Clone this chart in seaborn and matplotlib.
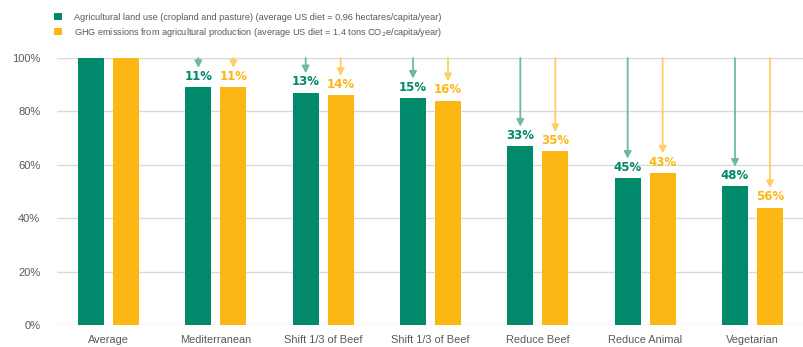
import matplotlib
matplotlib.use("Agg")
import matplotlib.pyplot as plt
import seaborn as sns
import pandas as pd

# ---- data ----
diet_labels = ["Average", "Mediterranean", "Shift 1/3 of Beef", "Shift 1/3 of Beef",
               "Reduce Beef", "Reduce Animal", "Vegetarian"]
land_reduction = [0, 11, 13, 15, 33, 45, 48]   # % reduction vs average diet
ghg_reduction = [0, 11, 14, 16, 35, 43, 56]
series_names = [
    "Agricultural land use (cropland and pasture) (average US diet = 0.96 hectares/capita/year)",
    "GHG emissions from agricultural production (average US diet = 1.4 tons CO$_2$e/capita/year)",
]
yticks = [0, 20, 40, 60, 80, 100]

GREEN = "#00896A"
YELLOW = "#FDB714"
GREEN_ARROW = "#6DBA9F"
YELLOW_ARROW = "#FDCF66"
GRAY = "#595959"

keys = [f"d{i}" for i in range(len(diet_labels))]
rows = []
for k, lr, gr in zip(keys, land_reduction, ghg_reduction):
    rows.append({"diet": k, "series": series_names[0], "value": 100 - lr, "red": lr})
    rows.append({"diet": k, "series": series_names[1], "value": 100 - gr, "red": gr})
df = pd.DataFrame(rows)

sns.set_theme(style="white")
plt.rcParams["font.family"] = ["Liberation Sans", "DejaVu Sans"]

fig = plt.figure(figsize=(8.04, 3.47), dpi=100)
ax = fig.add_axes([57 / 804, 1 - 325 / 347, 747 / 804, (325 - 58) / 347])

sns.barplot(data=df, x="diet", y="value", hue="series", order=keys,
            hue_order=series_names, palette=[GREEN, YELLOW],
            width=0.652, gap=0.26, ax=ax, edgecolor="none", saturation=1)

ax.set_ylim(0, 100)
ax.set_xlim(-0.48, 6.48)
ax.set_yticks(yticks)
ax.set_yticklabels([f"{t}%" for t in yticks])
ax.set_xticks(range(len(keys)))
ax.set_xticklabels(diet_labels)
ax.set_xlabel("")
ax.set_ylabel("")
ax.grid(axis="y", color="#DADADA", linewidth=1)
ax.set_axisbelow(True)
for s in ax.spines.values():
    s.set_visible(False)
ax.tick_params(axis="y", length=0, pad=12, labelsize=8, labelcolor=GRAY)
ax.tick_params(axis="x", length=0, pad=7, labelsize=7.9, labelcolor=GRAY)

# ---- labels & arrows ----
reductions = [land_reduction, ghg_reduction]
colors = [GREEN, YELLOW]
arrow_colors = [GREEN_ARROW, YELLOW_ARROW]
for ci, cont in enumerate(ax.containers):
    for bi, bar in enumerate(cont.patches):
        red = reductions[ci][bi]
        if red == 0:
            continue
        x = bar.get_x() + bar.get_width() / 2
        top = bar.get_height()
        ax.text(x, top + 1.6, f"{red}%", ha="center", va="bottom",
                color=colors[ci], fontsize=8.5, fontweight="bold",
                family=["DejaVu Sans"])
        ax.annotate("", xy=(x, top + 7.3), xytext=(x, 100),
                    arrowprops=dict(arrowstyle="-|>,head_length=0.35,head_width=0.18",
                                    color=arrow_colors[ci], lw=1.3,
                                    shrinkA=0, shrinkB=0),
                    annotation_clip=False)

# ---- legend ----
sns.move_legend(ax, "upper left", bbox_to_anchor=(54 / 804, 1 - 13 / 347),
                bbox_transform=fig.transFigure, frameon=False, title=None,
                fontsize=6.6, handlelength=0.85, handleheight=0.85,
                handletextpad=1.3, labelspacing=0.4, borderpad=0, borderaxespad=0)
for t in ax.get_legend().get_texts():
    t.set_color(GRAY)

fig.savefig("out.png", dpi=100)
